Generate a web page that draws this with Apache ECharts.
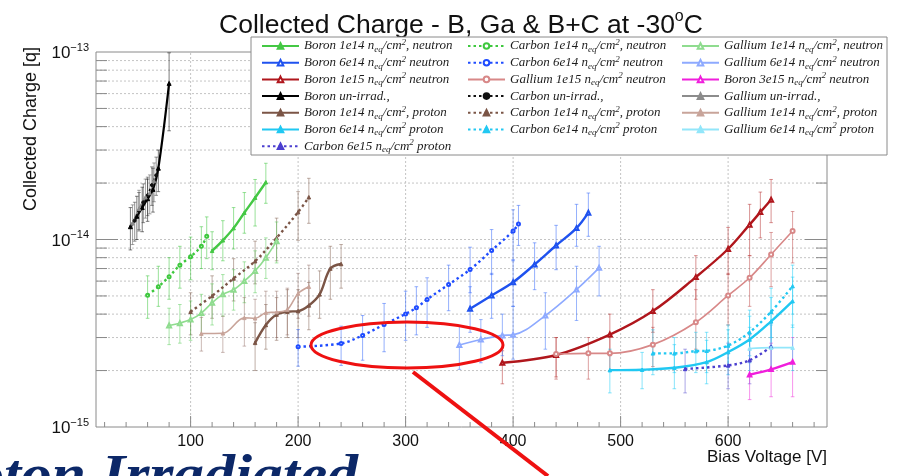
<!DOCTYPE html>
<html>
<head>
<meta charset="utf-8">
<script src="https://cdn.jsdelivr.net/npm/echarts@6/dist/echarts.min.js"></script>
<style>
  html, body { margin: 0; padding: 0; background: #ffffff; }
  #chart { width: 897px; height: 476px; }
</style>
</head>
<body>
<div id="chart"></div>
<script>
// ---- axes ----
const X_MIN = 12, X_MAX = 692;
const Y_MIN = 1e-15, Y_MAX = 1e-13;
const xLabelTicks = [100, 200, 300, 400, 500, 600];
const xSmallTicks = [20, 40, 60, 80, 120, 140, 160, 180, 220, 240, 260, 280, 320, 340, 360, 380,
                     420, 440, 460, 480, 520, 540, 560, 580, 620, 640, 660, 680];
const yDecadeTicks = [1e-15, 1e-14, 1e-13];
const yGridValues = [2e-15, 3e-15, 4e-15, 5e-15, 6e-15, 7e-15, 8e-15, 9e-15, 1e-14,
                     2e-14, 3e-14, 4e-14, 5e-14, 6e-14, 7e-14, 8e-14, 9e-14];

// ---- measurements: bias voltage [V], collected charge and its error range ----
// Boron
const boron1e14nV  = [120, 130, 140, 150, 160, 170];
const boron1e14nQ  = [8.7e-15, 9.9e-15, 11.5e-15, 13.9e-15, 16.7e-15, 20.2e-15];
const boron1e14nLo = [6.9e-15, 7.7e-15, 8.9e-15, 10.8e-15, 11.8e-15, 15.6e-15];
const boron1e14nHi = [11.0e-15, 12.6e-15, 14.8e-15, 17.8e-15, 20.9e-15, 25.5e-15];

const boron6e14nV  = [360, 380, 400, 420, 440, 459, 470];
const boron6e14nQ  = [4.27e-15, 5.03e-15, 5.92e-15, 7.36e-15, 9.29e-15, 11.5e-15, 13.9e-15];
const boron6e14nLo = [3.2e-15, 3.8e-15, 4.4e-15, 5.4e-15, 6.9e-15, 9.2e-15, 10.4e-15];
const boron6e14nHi = [5.6e-15, 6.6e-15, 7.8e-15, 9.6e-15, 11.9e-15, 15.4e-15, 17.7e-15];

const boron1e15nV  = [390, 440, 490, 530, 570, 600, 620, 630, 640];
const boron1e15nQ  = [2.2e-15, 2.42e-15, 3.11e-15, 4.15e-15, 6.3e-15, 8.9e-15, 12.0e-15, 14.0e-15, 16.3e-15];
const boron1e15nLo = [1.7e-15, 1.85e-15, 2.4e-15, 3.2e-15, 4.8e-15, 6.5e-15, 8.2e-15, 10.2e-15, 12.3e-15];
const boron1e15nHi = [2.55e-15, 3.0e-15, 4.0e-15, 5.4e-15, 8.2e-15, 11.6e-15, 15.4e-15, 17.9e-15, 20.9e-15];

const boronUnirrV  = [44, 50, 55, 60, 65, 70, 80];
const boronUnirrQ  = [11.7e-15, 13.3e-15, 14.8e-15, 16.5e-15, 18.5e-15, 24e-15, 68e-15];
const boronUnirrLo = [8.8e-15, 10e-15, 11e-15, 12.5e-15, 14e-15, 18e-15, 38e-15];
const boronUnirrHi = [14.8e-15, 17e-15, 19e-15, 21e-15, 24e-15, 30e-15, 99e-15];

const boron1e14pV  = [160, 170, 180, 190, 200, 210, 220, 230, 240];
const boron1e14pQ  = [2.81e-15, 3.5e-15, 3.98e-15, 4.12e-15, 4.15e-15, 4.45e-15, 5.1e-15, 7.0e-15, 7.4e-15];
const boron1e14pLo = [2.0e-15, 2.6e-15, 2.9e-15, 3.0e-15, 3.0e-15, 3.3e-15, 3.8e-15, 4.8e-15, 5.5e-15];
const boron1e14pHi = [3.6e-15, 4.5e-15, 4.9e-15, 5.4e-15, 5.4e-15, 5.9e-15, 6.8e-15, 9.2e-15, 9.4e-15];

const boron6e14pV  = [490, 520, 550, 580, 600, 620, 640, 660];
const boron6e14pQ  = [2.01e-15, 2.02e-15, 2.07e-15, 2.22e-15, 2.51e-15, 2.93e-15, 3.66e-15, 4.69e-15];
const boron6e14pLo = [1.52e-15, 1.6e-15, 1.6e-15, 1.7e-15, 1.9e-15, 2.2e-15, 2.7e-15, 3.4e-15];
const boron6e14pHi = [2.6e-15, 2.5e-15, 2.75e-15, 2.9e-15, 3.3e-15, 3.9e-15, 4.9e-15, 6.3e-15];

const boron3e15nV  = [620, 640, 660];
const boron3e15nQ  = [1.9e-15, 2.03e-15, 2.22e-15];
const boron3e15nLo = [1.4e-15, 1.45e-15, 1.45e-15];
const boron3e15nHi = [2.6e-15, 2.8e-15, 3.0e-15];

// Carbon
const carbon6e15pV  = [560, 600, 620, 640];
const carbon6e15pQ  = [2.04e-15, 2.13e-15, 2.27e-15, 2.68e-15];
const carbon6e15pLo = [1.52e-15, 1.6e-15, 1.7e-15, 2.0e-15];
const carbon6e15pHi = [2.6e-15, 2.8e-15, 3.1e-15, 3.6e-15];

const carbon1e14nV  = [60, 70, 80, 90, 100, 110, 115];
const carbon1e14nQ  = [5.05e-15, 5.6e-15, 6.33e-15, 7.3e-15, 8.1e-15, 9.2e-15, 10.4e-15];
const carbon1e14nLo = [3.8e-15, 4.4e-15, 4.8e-15, 5.5e-15, 6.1e-15, 7.0e-15, 7.9e-15];
const carbon1e14nHi = [6.4e-15, 7.2e-15, 8.0e-15, 9.2e-15, 10.3e-15, 11.7e-15, 13.2e-15];

const carbon6e14nV  = [200, 240, 260, 280, 300, 310, 320, 340, 360, 380, 400, 405];
const carbon6e14nQ  = [2.68e-15, 2.79e-15, 3.08e-15, 3.52e-15, 4.01e-15, 4.32e-15, 4.79e-15, 5.75e-15, 6.92e-15, 8.74e-15, 11.1e-15, 12.1e-15];
const carbon6e14nLo = [2.11e-15, 2.13e-15, 2.27e-15, 2.52e-15, 2.9e-15, 3.1e-15, 3.4e-15, 4.17e-15, 5.2e-15, 6.5e-15, 7.7e-15, 9.3e-15];
const carbon6e14nHi = [3.31e-15, 3.45e-15, 3.93e-15, 4.56e-15, 5.3e-15, 5.6e-15, 6.25e-15, 7.3e-15, 9.1e-15, 11.3e-15, 14.4e-15, 15.2e-15];

const carbonUnirrV  = [48, 52, 56, 60, 64, 68];
const carbonUnirrQ  = [12.6e-15, 14.2e-15, 15.8e-15, 17.2e-15, 19.5e-15, 22e-15];
const carbonUnirrLo = [9.8e-15, 11.1e-15, 12.3e-15, 13.4e-15, 15.2e-15, 17.2e-15];
const carbonUnirrHi = [15.8e-15, 17.8e-15, 19.8e-15, 21.5e-15, 24.4e-15, 27.5e-15];

const carbon1e14pV  = [100, 120, 140, 160, 180, 200, 210];
const carbon1e14pQ  = [4.12e-15, 5.0e-15, 6.2e-15, 7.66e-15, 10.2e-15, 14.0e-15, 16.8e-15];
const carbon1e14pLo = [3.1e-15, 3.8e-15, 4.7e-15, 5.8e-15, 7.7e-15, 9.9e-15, 12.2e-15];
const carbon1e14pHi = [5.2e-15, 6.4e-15, 7.9e-15, 9.8e-15, 13.0e-15, 18.0e-15, 21.2e-15];

const carbon6e14pV  = [530, 550, 570, 580, 600, 620, 640, 660];
const carbon6e14pQ  = [2.47e-15, 2.47e-15, 2.54e-15, 2.55e-15, 2.72e-15, 3.2e-15, 4.12e-15, 5.64e-15];
const carbon6e14pLo = [1.9e-15, 1.95e-15, 1.95e-15, 1.95e-15, 2.1e-15, 2.4e-15, 3.0e-15, 4.0e-15];
const carbon6e14pHi = [3.3e-15, 3.0e-15, 3.2e-15, 3.2e-15, 3.5e-15, 4.2e-15, 5.5e-15, 7.3e-15];

// Gallium
const gallium1e15nV  = [440, 470, 490, 530, 570, 600, 620, 640, 660];
const gallium1e15nQ  = [2.45e-15, 2.47e-15, 2.47e-15, 2.75e-15, 3.62e-15, 5.03e-15, 6.25e-15, 8.32e-15, 11.1e-15];
const gallium1e15nLo = [1.8e-15, 1.8e-15, 2.0e-15, 2.1e-15, 2.6e-15, 3.5e-15, 4.4e-15, 5.6e-15, 7.5e-15];
const gallium1e15nHi = [3.0e-15, 3.0e-15, 3.0e-15, 3.4e-15, 5.4e-15, 6.6e-15, 8.2e-15, 10.9e-15, 14.1e-15];

const gallium1e14nV  = [80, 90, 100, 110, 120, 130, 140, 150, 160, 170, 180];
const gallium1e14nQ  = [3.48e-15, 3.58e-15, 3.74e-15, 4.05e-15, 4.6e-15, 5.1e-15, 5.4e-15, 6.0e-15, 6.8e-15, 8.0e-15, 9.8e-15];
const gallium1e14nLo = [2.75e-15, 2.8e-15, 2.9e-15, 3.1e-15, 3.5e-15, 3.9e-15, 4.2e-15, 4.6e-15, 5.2e-15, 6.2e-15, 7.5e-15];
const gallium1e14nHi = [4.3e-15, 4.5e-15, 4.7e-15, 5.1e-15, 5.8e-15, 6.5e-15, 6.9e-15, 7.6e-15, 8.7e-15, 10.2e-15, 12.4e-15];

const gallium6e14nV  = [350, 370, 390, 400, 430, 459, 480];
const gallium6e14nQ  = [2.74e-15, 2.93e-15, 3.08e-15, 3.1e-15, 3.93e-15, 5.41e-15, 7.06e-15];
const gallium6e14nLo = [2.03e-15, 2.2e-15, 2.4e-15, 2.3e-15, 2.6e-15, 3.7e-15, 5.0e-15];
const gallium6e14nHi = [3.45e-15, 3.74e-15, 4.0e-15, 4.4e-15, 5.2e-15, 7.2e-15, 9.2e-15];

const galliumUnirrV  = [46, 52, 58, 62, 66];
const galliumUnirrQ  = [12.2e-15, 14.6e-15, 16.8e-15, 17.7e-15, 20.5e-15];
const galliumUnirrLo = [9.4e-15, 11.3e-15, 13.0e-15, 13.7e-15, 15.9e-15];
const galliumUnirrHi = [15.3e-15, 18.3e-15, 21.0e-15, 22.1e-15, 25.6e-15];

const gallium1e14pV  = [110, 130, 150, 160, 170, 180, 190, 200, 210];
const gallium1e14pQ  = [3.15e-15, 3.16e-15, 3.82e-15, 3.8e-15, 4.07e-15, 4.1e-15, 4.23e-15, 5.15e-15, 5.6e-15];
const gallium1e14pLo = [2.54e-15, 2.5e-15, 2.7e-15, 2.8e-15, 3.0e-15, 3.0e-15, 3.1e-15, 3.8e-15, 3.9e-15];
const gallium1e14pHi = [3.84e-15, 3.9e-15, 4.9e-15, 4.8e-15, 5.3e-15, 5.3e-15, 5.5e-15, 6.6e-15, 7.3e-15];

const gallium6e14pV  = [620, 640, 660];
const gallium6e14pQ  = [2.62e-15, 2.65e-15, 2.65e-15];
const gallium6e14pLo = [2.0e-15, 2.0e-15, 2.0e-15];
const gallium6e14pHi = [3.4e-15, 3.5e-15, 3.5e-15];

// ---- series names, in legend column order ----
const legendCol1 = [
  'Boron 1e14 n_eq/cm^2, neutron', 'Boron 6e14 n_eq/cm^2 neutron', 'Boron 1e15 n_eq/cm^2 neutron',
  'Boron un-irrad.,', 'Boron 1e14 n_eq/cm^2, proton', 'Boron 6e14 n_eq/cm^2 proton',
  'Carbon 6e15 n_eq/cm^2 proton'
];
const legendCol2 = [
  'Carbon 1e14 n_eq/cm^2, neutron', 'Carbon 6e14 n_eq/cm^2 neutron', 'Gallium 1e15 n_eq/cm^2 neutron',
  'Carbon un-irrad.,', 'Carbon 1e14 n_eq/cm^2, proton', 'Carbon 6e14 n_eq/cm^2 proton'
];
const legendCol3 = [
  'Gallium 1e14 n_eq/cm^2, neutron', 'Gallium 6e14 n_eq/cm^2 neutron', 'Boron 3e15 n_eq/cm^2 neutron',
  'Gallium un-irrad.,', 'Gallium 1e14 n_eq/cm^2, proton', 'Gallium 6e14 n_eq/cm^2 proton'
];

// ---- drawing styles per series ----
const DOT = [2.5, 3];
const seriesDefs = [
  { name: legendCol1[0], V: boron1e14nV, Q: boron1e14nQ, lo: boron1e14nLo, hi: boron1e14nHi, color: '#44c844', bar: 'rgba(70,200,70,0.55)', width: 2.4, type: 'solid', symbol: 'triangle', size: 3.5 },
  { name: legendCol1[1], V: boron6e14nV, Q: boron6e14nQ, lo: boron6e14nLo, hi: boron6e14nHi, color: '#1f52ef', bar: 'rgba(60,110,250,0.55)', width: 2.4, type: 'solid', symbol: 'emptyTriangle', size: 4 },
  { name: legendCol1[2], V: boron1e15nV, Q: boron1e15nQ, lo: boron1e15nLo, hi: boron1e15nHi, color: '#b0161c', bar: 'rgba(180,40,40,0.5)', width: 2.4, type: 'solid', symbol: 'emptyTriangle', size: 4 },
  { name: legendCol1[3], V: boronUnirrV, Q: boronUnirrQ, lo: boronUnirrLo, hi: boronUnirrHi, color: '#000000', bar: 'rgba(40,40,40,0.6)', width: 2.2, type: 'solid', symbol: 'triangle', size: 4 },
  { name: legendCol1[4], V: boron1e14pV, Q: boron1e14pQ, lo: boron1e14pLo, hi: boron1e14pHi, color: '#7b5546', bar: 'rgba(130,95,80,0.5)', width: 2.4, type: 'solid', symbol: 'triangle', size: 3.5 },
  { name: legendCol1[5], V: boron6e14pV, Q: boron6e14pQ, lo: boron6e14pLo, hi: boron6e14pHi, color: '#20c8f2', bar: 'rgba(40,205,245,0.55)', width: 2.4, type: 'solid', symbol: 'triangle', size: 3.5 },
  { name: legendCol1[6], V: carbon6e15pV, Q: carbon6e15pQ, lo: carbon6e15pLo, hi: carbon6e15pHi, color: '#4b3fcf', bar: 'rgba(90,80,210,0.5)', width: 2.4, type: DOT, symbol: 'triangle', size: 3.5 },

  { name: legendCol2[0], V: carbon1e14nV, Q: carbon1e14nQ, lo: carbon1e14nLo, hi: carbon1e14nHi, color: '#3ec83e', bar: 'rgba(70,200,70,0.55)', width: 2.4, type: DOT, symbol: 'emptyCircle', size: 3 },
  { name: legendCol2[1], V: carbon6e14nV, Q: carbon6e14nQ, lo: carbon6e14nLo, hi: carbon6e14nHi, color: '#1f4cff', bar: 'rgba(60,110,250,0.55)', width: 2.4, type: DOT, symbol: 'emptyCircle', size: 3 },
  { name: legendCol2[2], V: gallium1e15nV, Q: gallium1e15nQ, lo: gallium1e15nLo, hi: gallium1e15nHi, color: '#d88888', bar: 'rgba(190,70,70,0.5)', width: 1.6, type: 'solid', symbol: 'emptyCircle', size: 4 },
  { name: legendCol2[3], V: carbonUnirrV, Q: carbonUnirrQ, lo: carbonUnirrLo, hi: carbonUnirrHi, color: '#111111', bar: 'rgba(40,40,40,0.5)', width: 2.2, type: DOT, symbol: 'circle', size: 3 },
  { name: legendCol2[4], V: carbon1e14pV, Q: carbon1e14pQ, lo: carbon1e14pLo, hi: carbon1e14pHi, color: '#7b5546', bar: 'rgba(130,95,80,0.5)', width: 2.4, type: DOT, symbol: 'triangle', size: 3.5 },
  { name: legendCol2[5], V: carbon6e14pV, Q: carbon6e14pQ, lo: carbon6e14pLo, hi: carbon6e14pHi, color: '#22c8f2', bar: 'rgba(40,205,245,0.55)', width: 2.4, type: DOT, symbol: 'triangle', size: 3.5 },

  { name: legendCol3[0], V: gallium1e14nV, Q: gallium1e14nQ, lo: gallium1e14nLo, hi: gallium1e14nHi, color: '#8fdc8f', bar: 'rgba(90,205,90,0.5)', width: 1.6, type: 'solid', symbol: 'emptyTriangle', size: 4 },
  { name: legendCol3[1], V: gallium6e14nV, Q: gallium6e14nQ, lo: gallium6e14nLo, hi: gallium6e14nHi, color: '#8eaaff', bar: 'rgba(70,120,250,0.55)', width: 1.6, type: 'solid', symbol: 'emptyTriangle', size: 4 },
  { name: legendCol3[2], V: boron3e15nV, Q: boron3e15nQ, lo: boron3e15nLo, hi: boron3e15nHi, color: '#f01edc', bar: 'rgba(240,60,220,0.55)', width: 2.4, type: 'solid', symbol: 'emptyTriangle', size: 3.5 },
  { name: legendCol3[3], V: galliumUnirrV, Q: galliumUnirrQ, lo: galliumUnirrLo, hi: galliumUnirrHi, color: '#8c8c8c', bar: 'rgba(60,60,60,0.45)', width: 1.6, type: 'solid', symbol: 'triangle', size: 3.5 },
  { name: legendCol3[4], V: gallium1e14pV, Q: gallium1e14pQ, lo: gallium1e14pLo, hi: gallium1e14pHi, color: '#c8a49a', bar: 'rgba(140,100,90,0.45)', width: 1.6, type: 'solid', symbol: 'triangle', size: 3.5 },
  { name: legendCol3[5], V: gallium6e14pV, Q: gallium6e14pQ, lo: gallium6e14pLo, hi: gallium6e14pHi, color: '#92e6fa', bar: 'rgba(40,205,245,0.5)', width: 1.6, type: 'solid', symbol: 'triangle', size: 3.5 }
];

const SANS = '"Liberation Sans", Arial, Helvetica, sans-serif';
const SERIF = '"Liberation Serif", "Times New Roman", serif';

// vertical error bars with small caps
function errorBarItem(color) {
  return function (params, api) {
    const x = api.value(0);
    const pLo = api.coord([x, api.value(1)]);
    const pHi = api.coord([x, api.value(2)]);
    const cap = 1.8;
    const st = { stroke: color, lineWidth: 1 };
    return {
      type: 'group',
      children: [
        { type: 'line', shape: { x1: pLo[0], y1: pLo[1], x2: pHi[0], y2: pHi[1] }, style: st },
        { type: 'line', shape: { x1: pLo[0] - cap, y1: pLo[1], x2: pLo[0] + cap, y2: pLo[1] }, style: st },
        { type: 'line', shape: { x1: pHi[0] - cap, y1: pHi[1], x2: pHi[0] + cap, y2: pHi[1] }, style: st }
      ]
    };
  };
}

const series = [];

// dotted horizontal grid plus left/right tick marks
series.push({
  type: 'custom', silent: true, z: 1, clip: false,
  data: yGridValues.map(v => [X_MIN, v]),
  encode: { x: 0, y: 1 },
  renderItem: function (params, api) {
    const v = api.value(1);
    const a = api.coord([X_MIN, v]);
    const b = api.coord([X_MAX, v]);
    const len = yDecadeTicks.indexOf(v) >= 0 ? 22 : 11;
    return {
      type: 'group',
      children: [
        { type: 'line', shape: { x1: a[0], y1: a[1], x2: b[0], y2: b[1] }, style: { stroke: '#c4c4c4', lineWidth: 1, lineDash: [2, 2] } },
        { type: 'line', shape: { x1: a[0], y1: a[1], x2: a[0] + len, y2: a[1] }, style: { stroke: '#8a8a8a', lineWidth: 1 } },
        { type: 'line', shape: { x1: b[0] - len, y1: b[1], x2: b[0], y2: b[1] }, style: { stroke: '#8a8a8a', lineWidth: 1 } }
      ]
    };
  }
});

// dotted vertical grid at labelled voltages, with bottom ticks
series.push({
  type: 'custom', silent: true, z: 1, clip: false,
  data: xLabelTicks.map(v => [v, Y_MIN]),
  encode: { x: 0, y: 1 },
  renderItem: function (params, api) {
    const v = api.value(0);
    const a = api.coord([v, Y_MIN]);
    const b = api.coord([v, Y_MAX]);
    return {
      type: 'group',
      children: [
        { type: 'line', shape: { x1: a[0], y1: a[1], x2: b[0], y2: b[1] }, style: { stroke: '#c4c4c4', lineWidth: 1, lineDash: [2, 2] } },
        { type: 'line', shape: { x1: a[0], y1: a[1], x2: a[0], y2: a[1] - 11 }, style: { stroke: '#8a8a8a', lineWidth: 1 } }
      ]
    };
  }
});

// small ticks along the voltage axis
series.push({
  type: 'custom', silent: true, z: 1, clip: false,
  data: xSmallTicks.map(v => [v, Y_MIN]),
  encode: { x: 0, y: 1 },
  renderItem: function (params, api) {
    const a = api.coord([api.value(0), Y_MIN]);
    return { type: 'line', shape: { x1: a[0], y1: a[1], x2: a[0], y2: a[1] - 5 }, style: { stroke: '#8a8a8a', lineWidth: 1 } };
  }
});

seriesDefs.forEach(function (d) {
  series.push({
    name: d.name + ' (err)',
    type: 'custom', silent: true, z: 2,
    data: d.V.map((v, i) => [v, d.lo[i], d.hi[i]]),
    encode: { x: 0, y: [1, 2] },
    renderItem: errorBarItem(d.bar)
  });
});

seriesDefs.forEach(function (d) {
  series.push({
    name: d.name,
    type: 'line', silent: true, z: 3,
    data: d.V.map((v, i) => [v, d.Q[i]]),
    smooth: 0.35,
    symbol: d.symbol,
    symbolSize: d.size,
    showSymbol: true,
    lineStyle: { color: d.color, width: d.width, type: d.type },
    itemStyle: { color: d.color, borderColor: d.color, borderWidth: 1 },
    emphasis: { disabled: true }
  });
});

function legendName(name) {
  return name.replace('n_eq', 'n{sub|eq}').replace('cm^2', 'cm{sup|2}');
}
const legendText = {
  fontFamily: SERIF, fontStyle: 'italic', fontSize: 13, color: '#1c1c1c', lineHeight: 16,
  rich: {
    sub: { fontFamily: SERIF, fontStyle: 'italic', fontSize: 9, color: '#1c1c1c', verticalAlign: 'bottom', lineHeight: 16 },
    sup: { fontFamily: SERIF, fontStyle: 'italic', fontSize: 9, color: '#1c1c1c', verticalAlign: 'top', lineHeight: 16 }
  }
};
function makeLegend(names, left) {
  return {
    data: names, orient: 'vertical', left: left, top: 38, padding: 0,
    itemWidth: 37, itemHeight: 7, itemGap: 0.7, z: 12,
    selectedMode: false, formatter: legendName, textStyle: legendText
  };
}

const yLabelRich = {
  b: { fontFamily: SANS, fontSize: 17, color: '#111', lineHeight: 20, verticalAlign: 'bottom' },
  s: { fontFamily: SANS, fontSize: 11, color: '#111', lineHeight: 20, verticalAlign: 'top' }
};

const option = {
  animation: false,
  backgroundColor: '#ffffff',
  title: {
    text: '{t|Collected Charge - B, Ga & B+C at -30}{s|o}{t|C}',
    left: 214, top: 4,
    textStyle: {
      fontWeight: 'normal',
      rich: {
        t: { fontFamily: SANS, fontWeight: 'normal', fontSize: 26.5, color: '#111', lineHeight: 30, verticalAlign: 'bottom' },
        s: { fontFamily: SANS, fontWeight: 'normal', fontSize: 16, color: '#111', lineHeight: 30, verticalAlign: 'top' }
      }
    }
  },
  grid: {
    left: 96, top: 52, width: 731, height: 375,
    show: true, borderColor: '#8a8a8a', borderWidth: 1, backgroundColor: '#ffffff'
  },
  xAxis: {
    type: 'value', min: X_MIN, max: X_MAX, splitNumber: 7,
    axisLine: { show: false }, axisTick: { show: false }, splitLine: { show: false },
    axisLabel: {
      margin: 7, fontFamily: SANS, fontSize: 16, color: '#111',
      formatter: v => (xLabelTicks.indexOf(v) >= 0 ? String(v) : '')
    }
  },
  yAxis: {
    type: 'log', logBase: 10, min: Y_MIN, max: Y_MAX,
    axisLine: { show: false }, axisTick: { show: false }, splitLine: { show: false },
    axisLabel: {
      margin: 7,
      formatter: function (v) {
        const e = Math.log10(v);
        const r = Math.round(e);
        if (Math.abs(e - r) > 1e-6) return '';
        return '{b|10}{s|\u2212' + Math.abs(r) + '}';
      },
      rich: yLabelRich
    }
  },
  legend: [makeLegend(legendCol1, 261), makeLegend(legendCol2, 467), makeLegend(legendCol3, 681)],
  graphic: [
    { type: 'rect', z: 10, shape: { x: 251, y: 37, width: 636, height: 118 },
      style: { fill: '#ffffff', stroke: '#8a8a8a', lineWidth: 1 } },
    { type: 'text', z: 10, x: 31, y: 47, rotation: Math.PI / 2,
      style: { text: 'Collected Charge [q]', font: '18px ' + SANS, fill: '#111', align: 'right', verticalAlign: 'middle' } },
    { type: 'text', z: 10, x: 827, y: 457,
      style: { text: 'Bias Voltage [V]', font: '17px ' + SANS, fill: '#111', align: 'right', verticalAlign: 'middle' } },
    { type: 'ellipse', z: 30, shape: { cx: 407, cy: 345, rx: 96, ry: 23 },
      style: { fill: 'none', stroke: '#ee1111', lineWidth: 3 } },
    { type: 'line', z: 30, shape: { x1: 413, y1: 372, x2: 548, y2: 476 },
      style: { stroke: '#ee1111', lineWidth: 4 } },
    { type: 'text', z: 30, x: 358, y: 505, scaleX: 1.14,
      style: { text: 'Proton Irradiated', font: 'italic bold 54px ' + SERIF, fill: '#0c2868', align: 'right', verticalAlign: 'bottom' } }
  ],
  series: series
};

const chart = echarts.init(document.getElementById('chart'), null, { renderer: 'canvas', width: 897, height: 476 });
chart.setOption(option);
</script>
</body>
</html>
